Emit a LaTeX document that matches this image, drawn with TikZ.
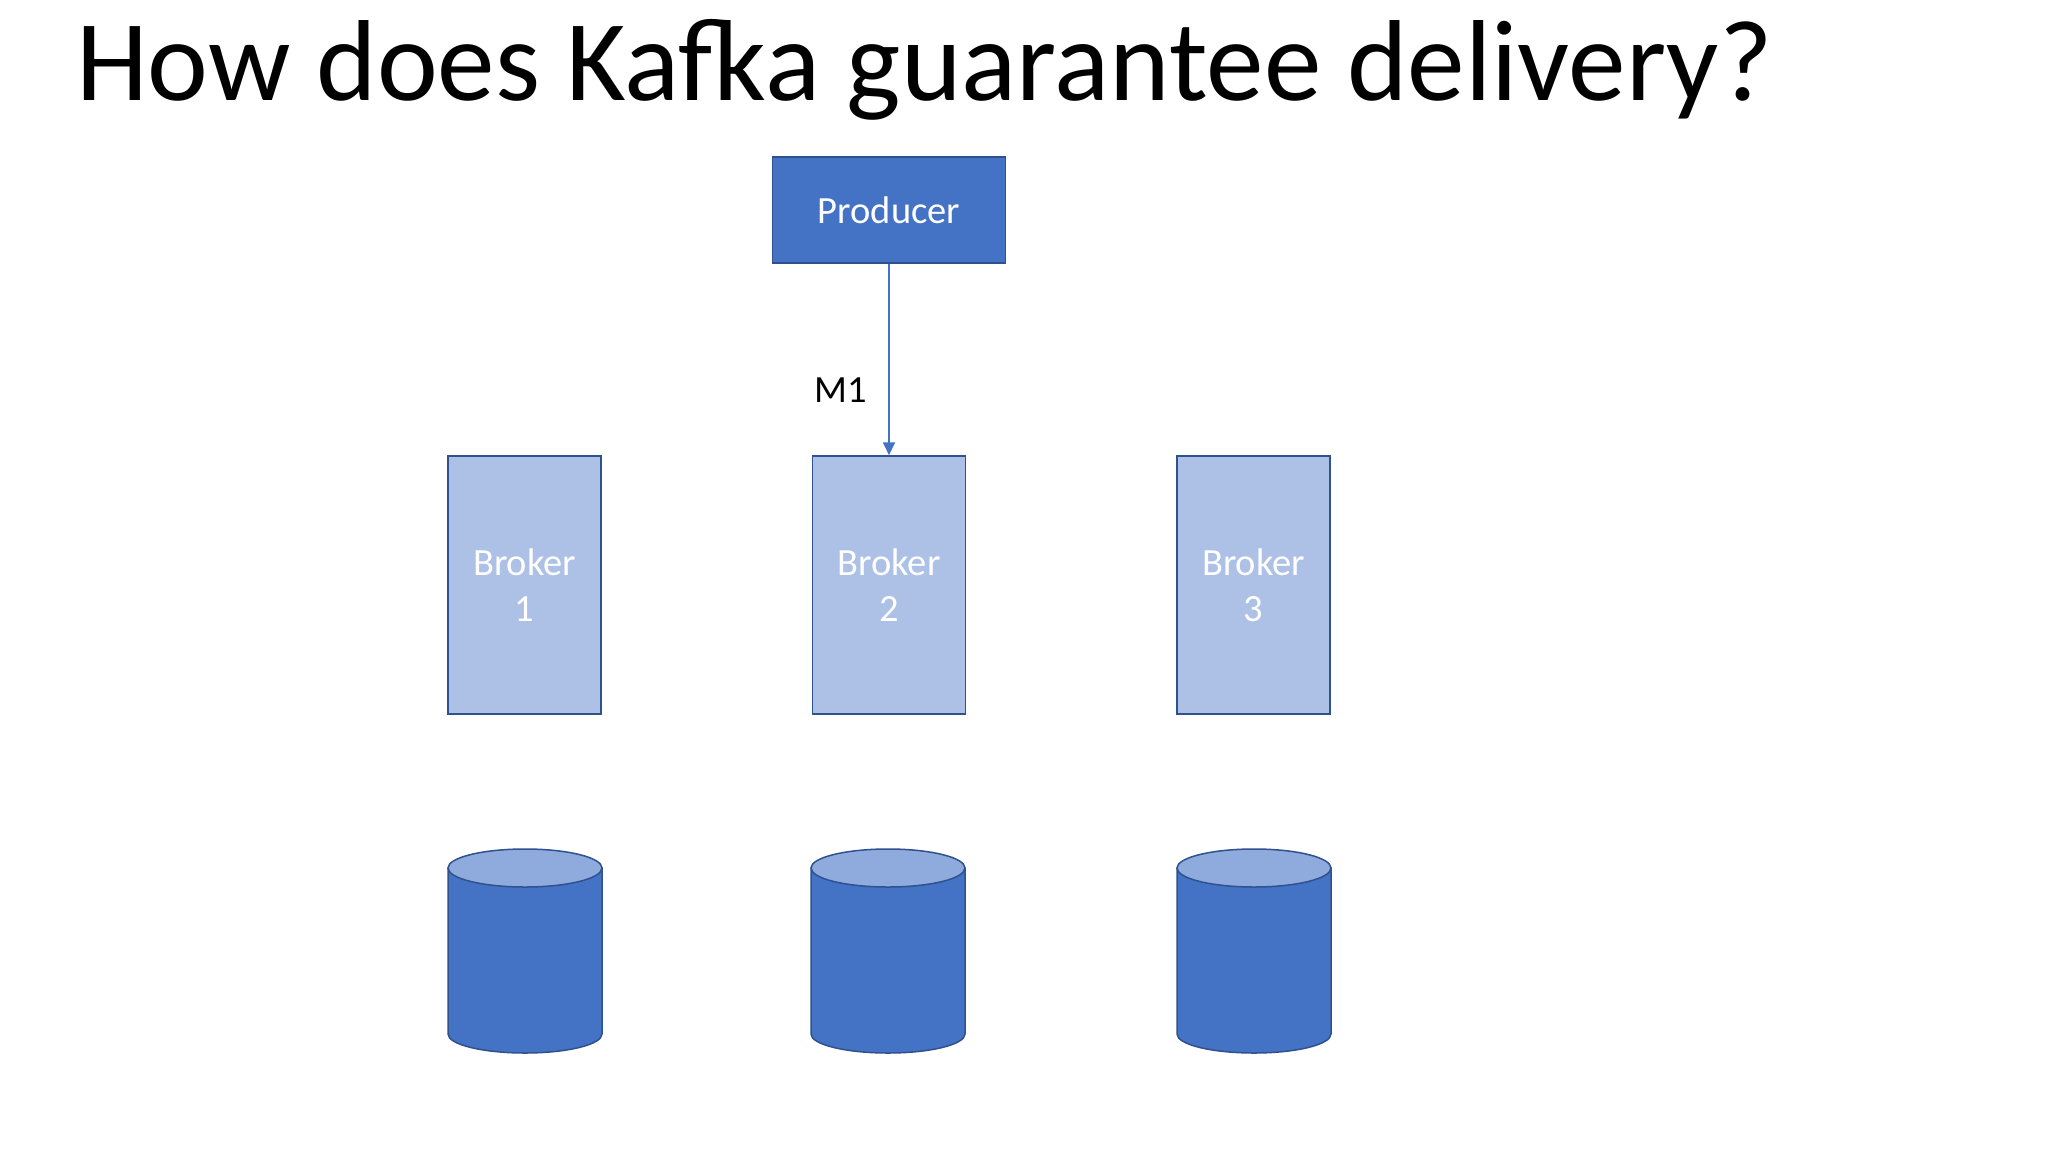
\documentclass[tikz,border=0pt]{standalone}
\usepackage{fontspec}
\setmainfont{Carlito}
\usetikzlibrary{arrows.meta}
\definecolor{accent}{HTML}{4472C4}
\definecolor{edge}{HTML}{2F528F}
\definecolor{brokerfill}{HTML}{ACC1E5}
\definecolor{captop}{HTML}{8FAADC}
\tikzset{
  prodbox/.style={draw=edge, line width=1.5pt, fill=accent, text=white, minimum width=233pt, minimum height=106pt, inner sep=0pt, font=\fontsize{38.5}{46}\selectfont},
  brokerbox/.style={draw=edge, line width=1.5pt, fill=brokerfill, text=white, minimum width=153pt, minimum height=258pt, inner sep=0pt, align=center, font=\fontsize{38.5}{46}\selectfont},
  cylbody/.style={draw=edge, line width=1.5pt, fill=accent},
  cyltop/.style={draw=edge, line width=1.5pt, fill=captop},
  msg/.style={draw=accent, line width=1.8pt, -{Triangle[length=13pt,width=12pt]}}
}
\begin{document}
\begin{tikzpicture}[x=1pt,y=1pt]
\fill[white] (0,0) rectangle (2048,-1152);
\useasboundingbox (0,0) rectangle (2048,-1152);
\node[anchor=base west, inner sep=0pt, font=\fontsize{115.2}{130}\selectfont] (title) at (76,-100) {How does Kafka guarantee delivery?};
\node[prodbox] (producer) at (889,-210) {Producer};
\node[brokerbox] (b1) at (524.5,-585) {Broker\\1};
\node[brokerbox] (b2) at (889,-585) {Broker\\2};
\node[brokerbox] (b3) at (1253.5,-585) {Broker\\3};
\draw[msg] (producer.south) -- (b2.north);
\node[anchor=base east, inner sep=0pt, font=\fontsize{38.5}{46}\selectfont] (m1) at (867,-402) {M1};
\foreach \cx/\nm in {525/c1, 888/c2, 1254/c3}{
  \path[cylbody] (\cx-77,-868) -- (\cx-77,-1034) arc[start angle=180, end angle=360, x radius=77, y radius=19] -- (\cx+77,-868) -- cycle;
  \path[cyltop] (\cx,-868) ellipse [x radius=77, y radius=19];
  \coordinate (\nm) at (\cx,-950);
}
\end{tikzpicture}
\end{document}
